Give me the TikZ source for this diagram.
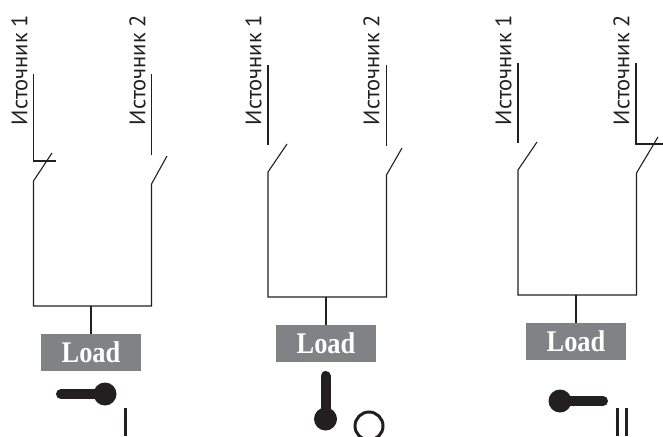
\documentclass[tikz,border=0pt]{standalone}
\usepackage{graphicx}
\usepackage{fontspec}
\setmainfont{PT Sans}
\newfontfamily\loadfont{Liberation Serif}
\definecolor{ink}{HTML}{231F20}
\definecolor{loadgray}{HTML}{808285}
\newcommand{\loadword}{\scalebox{0.88}[1]{Load}}
\tikzset{
  wire/.style={draw=ink,line width=1.1pt},
  stem/.style={draw=ink,line width=1.5pt},
  src/.style={rotate=90,anchor=center,inner sep=0pt,text=ink,font=\fontsize{22.5}{22.5}\selectfont},
  loadbox/.style={fill=loadgray,text=white,minimum width=100pt,minimum height=37pt,inner sep=0pt,font=\loadfont\bfseries\fontsize{30}{30}\selectfont},
  handle/.style={draw=ink,line width=10pt,line cap=round},
  knob/.style={circle,fill=ink,minimum size=23pt,inner sep=0pt},
  posmark/.style={draw=ink,line width=3pt}
}
\begin{document}
\begin{tikzpicture}[x=1pt,y=-1pt]
\useasboundingbox (0,0) rectangle (663,436);
% panel 1
\node[src] (s11) at (19.5,70) {Источник 1};
\node[src] (s12) at (137.5,70) {Источник 2};
\coordinate (a1) at (33.5,74); \coordinate (a2) at (33.5,161); \coordinate (a3) at (56,161);
\coordinate (a4) at (52,153); \coordinate (a5) at (33.5,181); \coordinate (a6) at (33.5,306);
\coordinate (b1) at (151.3,74); \coordinate (b2) at (151.3,155); \coordinate (b3) at (167,156);
\coordinate (b4) at (151.5,184); \coordinate (b5) at (151.5,306);
\draw[wire] (a1) -- (a2) -- (a3);
\draw[wire] (a4) -- (a5) -- (a6) -- (b5) -- (b4) -- (b3);
\draw[wire] (b1) -- (b2);
\node[loadbox] (l1) at (91,352.5) {\loadword};
\coordinate (t1) at (91,306);
\draw[stem] (t1) -- (l1.north);
\node[knob] (k1) at (105,394) {};
\coordinate (h1) at (61,394);
\draw[handle] (h1) -- (k1.center);
\coordinate (i1) at (125.5,408); \coordinate (i2) at (125.5,436);
\draw[posmark] (i1) -- (i2);
% panel 2
\node[src] (s21) at (253.5,70) {Источник 1};
\node[src] (s22) at (371.5,70) {Источник 2};
\coordinate (c1) at (268,65); \coordinate (c2) at (268,145); \coordinate (c3) at (287,144);
\coordinate (c4) at (268,172); \coordinate (c5) at (268,297);
\coordinate (d1) at (386.5,65); \coordinate (d2) at (386.5,146); \coordinate (d3) at (402,148);
\coordinate (d4) at (386.5,175); \coordinate (d5) at (386.5,297);
\draw[wire] (c1) -- (c2);
\draw[wire] (d1) -- (d2);
\draw[wire] (c3) -- (c4) -- (c5) -- (d5) -- (d4) -- (d3);
\node[loadbox] (l2) at (326,343.5) {\loadword};
\coordinate (t2) at (326,297);
\draw[stem] (t2) -- (l2.north);
\node[knob] (k2) at (325.5,419) {};
\coordinate (h2) at (325.5,376);
\draw[handle] (h2) -- (k2.center);
\node[circle,draw=ink,line width=3pt,minimum size=28pt,inner sep=0pt] (o2) at (369,426) {};
% panel 3
\node[src] (s31) at (503.5,70) {Источник 1};
\node[src] (s32) at (621.5,70) {Источник 2};
\coordinate (e1) at (518,63); \coordinate (e2) at (518,143); \coordinate (e3) at (537,142);
\coordinate (e4) at (518,170); \coordinate (e5) at (518,295);
\coordinate (f1) at (636,63); \coordinate (f2) at (636,144); \coordinate (f3) at (663,144);
\coordinate (f4) at (658,137); \coordinate (f5) at (636.5,173); \coordinate (f6) at (636.5,295);
\draw[wire] (e1) -- (e2);
\draw[wire] (f1) -- (f2) -- (f3);
\draw[wire] (e3) -- (e4) -- (e5) -- (f6) -- (f5) -- (f4);
\node[loadbox] (l3) at (576,341.5) {\loadword};
\coordinate (t3) at (576,295);
\draw[stem] (t3) -- (l3.north);
\node[knob] (k3) at (560,401) {};
\coordinate (h3) at (603,401);
\draw[handle] (h3) -- (k3.center);
\coordinate (j1) at (617,408); \coordinate (j2) at (617,436);
\coordinate (j3) at (626,408); \coordinate (j4) at (626,436);
\draw[posmark] (j1) -- (j2);
\draw[posmark] (j3) -- (j4);
\end{tikzpicture}
\end{document}
